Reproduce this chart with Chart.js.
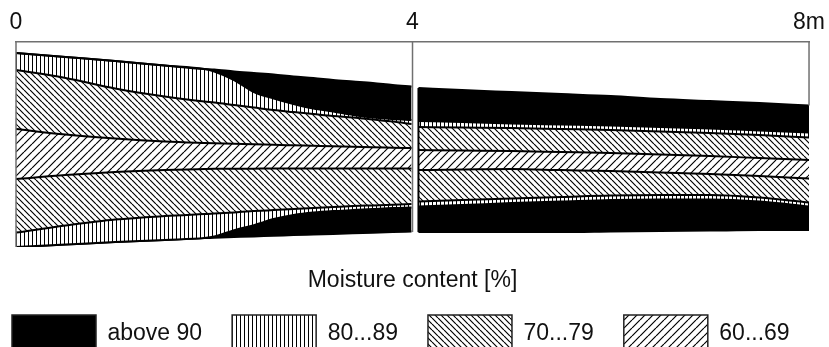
<!DOCTYPE html>
<html>
<head>
<meta charset="utf-8">
<script src="https://cdn.jsdelivr.net/npm/chart.js@4.4.0/dist/chart.umd.min.js"></script>
<style>
  html, body { margin: 0; padding: 0; background: #fff; }
  #wrap { width: 829px; height: 347px; }
</style>
</head>
<body>
<div id="wrap"><canvas id="chart_moisture"></canvas></div>
<script>
// Moisture distribution along a log, 0 - 8 m, shown in two sections (break at 4 m)
// Vertical values are the position across the log section (mm from the bottom edge)

// Data
const positions = [0, 0.5, 1, 1.5, 1.9, 2, 2.2, 2.4, 2.6, 2.8, 3, 3.2, 3.4, 3.6, 3.8, 3.99,
                   4.03, // break between the two sections
                   4.06, 4.5, 5, 5.5, 6, 6.5, 7, 7.5, 8];
const rightStart = 17; // first index of the second section

const edgeTop = [194, 190, 186, 181.5, 178, 177.5, 175.5, 174, 172.5, 170.5, 169, 167, 165.5, 164, 162, 160.5,
                 null, 159, 157, 155, 153, 151, 148, 146, 144, 141.5];
const top90 = [194, 190, 186, 181.5, 178, 175.5, 167, 155, 148.5, 143, 138.5, 135.5, 132, 129.5, 128, 127,
               null, 126, 125, 123.5, 122.5, 121.5, 120, 118.5, 116.5, 114.5];
const top80 = [177, 169, 158.5, 150.5, 145.5, 144.5, 142, 139.5, 137, 135, 133, 131, 129.5, 127.5, 125.5, 123,
               null, 120, 119.5, 119, 118, 117, 115.5, 114, 112, 109.5];
const top70 = [118, 112.5, 108.5, 105.5, 104, 103.7, 103.2, 102.8, 102.2, 101.7, 101.2, 100.7, 100.3, 99.8, 99.4, 99,
               null, 97, 96.5, 96, 95, 94, 92.5, 91, 89, 87];
const bottom70 = [68, 72, 75, 77, 78, 78.2, 78.3, 78.4, 78.5, 78.5, 78.5, 78.5, 78.5, 78.5, 78.5, 78.5,
                  null, 77, 77.5, 78, 77, 76, 74.5, 73, 71, 68.5];
const bottom80 = [14.5, 21.5, 27.5, 31, 33, 33.5, 34.7, 36, 37, 38, 39, 40, 41, 41.7, 42.4, 43,
                  null, 45.5, 47, 48.5, 50, 51.5, 52, 52, 49.5, 44.5];
const bottom90 = [0, 2.5, 5, 7.2, 9, 10.5, 17, 22, 28, 32, 34.5, 36, 37, 38, 39, 39.5,
                  null, 40.5, 42, 44, 45.5, 47, 47.5, 47.5, 45.5, 40.5];
const edgeBottom = [0, 2.5, 5, 7.2, 9, 9.3, 10, 10.7, 11.3, 12, 12.6, 13.2, 13.8, 14.4, 15, 15.5,
                    null, 15, 15, 15, 15, 15.5, 16, 16.5, 17, 17];

const classLabels = ['above 90', '80...89', '70...79', '60...69'];
const tickLabels = ['0', '4', '8m'];
const axisTitle = 'Moisture content [%]';

// Hatch patterns
function makePattern(size, width, draw) {
    const c = document.createElement('canvas');
    c.width = size;
    c.height = size;
    const g = c.getContext('2d');
    g.fillStyle = '#fff';
    g.fillRect(0, 0, size, size);
    g.strokeStyle = '#000';
    g.lineWidth = width;
    g.beginPath();
    draw(g, size);
    g.stroke();
    return g.createPattern(c, 'repeat');
}
const solid = '#000';
const vertical = makePattern(4, 1, (g, s) => { g.moveTo(0.5, 0); g.lineTo(0.5, s); });
const backslash = makePattern(6, 1.2, (g, s) => {
    for (const o of [-s, 0, s]) { g.moveTo(o, 0); g.lineTo(o + s, s); }
});
const slash = makePattern(8, 1.2, (g, s) => {
    for (const o of [-s, 0, s]) { g.moveTo(o, s); g.lineTo(o + s, 0); }
});

function band(label, values, fill, bg) {
    return {
        label: label,
        data: positions.map((p, i) => ({x: p, y: values[i]})),
        fill: fill,
        backgroundColor: bg,
        borderColor: '#000',
        borderWidth: 2,
        pointRadius: 0,
        cubicInterpolationMode: 'monotone'
    };
}

// Frame lines around the two sections
const framePlugin = {
    id: 'frame',
    afterDatasetsDraw(chart) {
        const {ctx, chartArea} = chart;
        const x = chart.scales.x;
        const y = chart.scales.y;
        ctx.save();
        ctx.strokeStyle = '#707070';
        ctx.lineWidth = 1.5;
        const lines = [[0, edgeBottom[0]], [4, edgeBottom[rightStart]], [8, edgeTop[edgeTop.length - 1]]];
        lines.forEach(([m, v]) => {
            const px = x.getPixelForValue(m);
            ctx.beginPath();
            ctx.moveTo(px, chartArea.top);
            ctx.lineTo(px, y.getPixelForValue(v));
            ctx.stroke();
        });
        // left edge of the second section
        const px2 = x.getPixelForValue(positions[rightStart]);
        ctx.strokeStyle = '#000';
        ctx.lineWidth = 2;
        ctx.beginPath();
        ctx.moveTo(px2, y.getPixelForValue(edgeTop[rightStart]));
        ctx.lineTo(px2, y.getPixelForValue(edgeBottom[rightStart]));
        ctx.stroke();
        ctx.restore();
    }
};

Chart.defaults.font.family = "'Liberation Sans', Arial, sans-serif";
Chart.defaults.color = '#111';

const ctx = document.getElementById('chart_moisture').getContext('2d');
const myChart = new Chart(ctx, {
    type: 'line',
    data: {
        datasets: [
            band('edge', edgeTop, false, solid),
            band(classLabels[0], top90, '-1', solid),
            band(classLabels[1], top80, '-1', vertical),
            band(classLabels[2], top70, '-1', backslash),
            band(classLabels[3], bottom70, '-1', slash),
            band(classLabels[2], bottom80, '-1', backslash),
            band(classLabels[1], bottom90, '-1', vertical),
            band(classLabels[0], edgeBottom, '-1', solid)
        ]
    },
    options: {
        responsive: true,
        maintainAspectRatio: false,
        animation: false,
        layout: {
            padding: {top: 4.1, left: -18, right: 0, bottom: 0}
        },
        scales: {
            x: {
                type: 'linear',
                position: 'top',
                min: 0,
                max: 8,
                grid: {display: false, drawTicks: false},
                border: {display: true, color: '#707070', width: 1.5},
                ticks: {
                    stepSize: 4,
                    padding: 4,
                    maxRotation: 0,
                    color: '#111',
                    font: {size: 23, lineHeight: 1.3},
                    callback: (value) => tickLabels[value / 4]
                }
            },
            x2: {
                type: 'linear',
                position: 'bottom',
                min: 0,
                max: 8,
                grid: {display: false, drawTicks: false},
                border: {display: false},
                ticks: {display: false},
                title: {
                    display: true,
                    text: axisTitle,
                    color: '#111',
                    font: {size: 23, lineHeight: 0.3},
                    padding: {top: 30.5, bottom: 0.5}
                }
            },
            y: {
                type: 'linear',
                min: 0,
                max: 205,
                grid: {display: false, drawTicks: false},
                border: {display: false},
                ticks: {display: false},
                afterFit: (scale) => { scale.width = 34; }
            }
        },
        plugins: {
            tooltip: {enabled: false},
            legend: {
                position: 'bottom',
                align: 'start',
                maxHeight: 62,
                labels: {
                    boxWidth: 84,
                    boxHeight: 38,
                    padding: 30,
                    color: '#111',
                    font: {size: 23},
                    generateLabels: (chart) => Chart.defaults.plugins.legend.labels.generateLabels(chart)
                        .filter(item => item.datasetIndex >= 1 && item.datasetIndex <= 4)
                        .map(item => Object.assign(item, {lineWidth: 1.5, strokeStyle: '#222'}))
                }
            }
        }
    },
    plugins: [framePlugin]
});
</script>
</body>
</html>
